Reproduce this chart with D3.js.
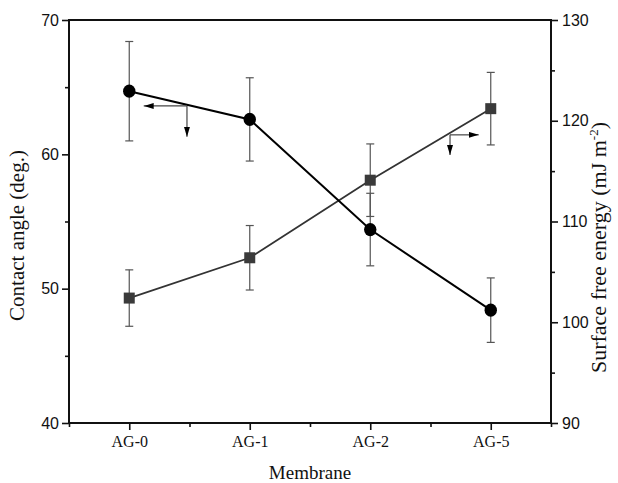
<!DOCTYPE html>
<html>
<head>
<meta charset="utf-8">
<script src="https://cdn.jsdelivr.net/npm/d3@7"></script>
<style>
  html, body { margin: 0; padding: 0; background: #fff; }
  svg { display: block; }
</style>
</head>
<body>
<svg id="chart" width="618" height="483"></svg>
<script>
// Membrane samples
const categories = ["AG-0", "AG-1", "AG-2", "AG-5"];

// Contact angle (deg.), left axis
const contactAngle = [64.7, 62.6, 54.4, 48.4];
const contactAngleErr = [3.7, 3.1, 2.7, 2.4];

// Surface free energy (mJ m^-2), right axis
const surfaceEnergy = [102.4, 106.4, 114.1, 121.2];
const surfaceEnergyErr = [2.8, 3.2, 3.6, 3.6];

// Axis ticks
const leftTicks = [40, 50, 60, 70];
const leftMinor = [45, 55, 65];
const rightTicks = [90, 100, 110, 120, 130];
const rightMinor = [95, 105, 115, 125];

const svg = d3.select("#chart");
const plot = { left: 69, right: 551, top: 20, bottom: 423 };

const x = d3.scaleLinear().domain([0.5, categories.length + 0.5]).range([plot.left, plot.right]);
const yL = d3.scaleLinear().domain([40, 70]).range([plot.bottom, plot.top]);
const yR = d3.scaleLinear().domain([90, 130]).range([plot.bottom, plot.top]);

const sansFont = "'Liberation Sans', Arial, sans-serif";
const serifFont = "'Liberation Serif', 'Times New Roman', serif";
const axisColor = "#111";

function styleAxis(g, width) {
  g.select(".domain").remove();
  g.selectAll(".tick line").attr("stroke", axisColor).attr("stroke-width", width);
}

// Left axis
const gL = svg.append("g").attr("transform", `translate(${plot.left},0)`)
  .call(d3.axisLeft(yL).tickValues(leftTicks).tickSize(7).tickPadding(3).tickFormat(d3.format("d")));
styleAxis(gL, 1.6);
gL.selectAll(".tick text").attr("font-family", sansFont).attr("font-size", 16).attr("fill", "#111");
svg.append("g").attr("transform", `translate(${plot.left},0)`)
  .call(d3.axisLeft(yL).tickValues(leftMinor).tickSize(4).tickFormat(""))
  .call(g => styleAxis(g, 1.6));

// Right axis
const gR = svg.append("g").attr("transform", `translate(${plot.right},0)`)
  .call(d3.axisRight(yR).tickValues(rightTicks).tickSize(7).tickPadding(4).tickFormat(d3.format("d")));
styleAxis(gR, 1.6);
gR.selectAll(".tick text").attr("font-family", sansFont).attr("font-size", 16).attr("fill", "#111");
svg.append("g").attr("transform", `translate(${plot.right},0)`)
  .call(d3.axisRight(yR).tickValues(rightMinor).tickSize(4).tickFormat(""))
  .call(g => styleAxis(g, 1.6));

// Bottom axis
const gB = svg.append("g").attr("transform", `translate(0,${plot.bottom})`)
  .call(d3.axisBottom(x).tickValues(d3.range(1, categories.length + 1)).tickSize(7).tickPadding(6)
    .tickFormat(d => categories[d - 1]));
styleAxis(gB, 1.6);
gB.selectAll(".tick text").attr("font-family", serifFont).attr("font-size", 16).attr("fill", "#111");
svg.append("g").attr("transform", `translate(0,${plot.bottom})`)
  .call(d3.axisBottom(x).tickValues(d3.range(0.5, categories.length + 1, 1)).tickSize(4).tickFormat(""))
  .call(g => styleAxis(g, 1.6));

// Frame
svg.append("rect")
  .attr("x", plot.left).attr("y", plot.top)
  .attr("width", plot.right - plot.left).attr("height", plot.bottom - plot.top)
  .attr("fill", "none").attr("stroke", axisColor).attr("stroke-width", 2);

// Error bars
function errorBars(vals, errs, y, color) {
  const g = svg.append("g").attr("stroke", color).attr("stroke-width", 1.2).attr("fill", "none");
  vals.forEach((v, i) => {
    const cx = x(i + 1);
    const top = y(v + errs[i]), bot = y(v - errs[i]);
    g.append("line").attr("x1", cx).attr("x2", cx).attr("y1", top).attr("y2", bot);
    g.append("line").attr("x1", cx - 4).attr("x2", cx + 4).attr("y1", top).attr("y2", top);
    g.append("line").attr("x1", cx - 4).attr("x2", cx + 4).attr("y1", bot).attr("y2", bot);
  });
}
errorBars(surfaceEnergy, surfaceEnergyErr, yR, "#555");
errorBars(contactAngle, contactAngleErr, yL, "#555");

// Series lines
const lineR = d3.line().x((d, i) => x(i + 1)).y(d => yR(d));
const lineL = d3.line().x((d, i) => x(i + 1)).y(d => yL(d));
svg.append("path").datum(surfaceEnergy).attr("d", lineR)
  .attr("fill", "none").attr("stroke", "#333").attr("stroke-width", 1.8);
svg.append("path").datum(contactAngle).attr("d", lineL)
  .attr("fill", "none").attr("stroke", "#000").attr("stroke-width", 2);

// Markers
const sq = 11;
svg.append("g").selectAll("rect").data(surfaceEnergy).join("rect")
  .attr("x", (d, i) => x(i + 1) - sq / 2).attr("y", d => yR(d) - sq / 2)
  .attr("width", sq).attr("height", sq).attr("fill", "#3a3a3a");
svg.append("g").selectAll("ellipse").data(contactAngle).join("ellipse")
  .attr("cx", (d, i) => x(i + 1)).attr("cy", d => yL(d))
  .attr("rx", 6.2).attr("ry", 6.6).attr("fill", "#000");

// Axis-pointer arrows (which series belongs to which axis)
svg.append("defs").append("marker")
  .attr("id", "head").attr("viewBox", "0 0 10 6").attr("refX", 10).attr("refY", 3)
  .attr("markerWidth", 10).attr("markerHeight", 6).attr("markerUnits", "userSpaceOnUse")
  .attr("orient", "auto")
  .append("path").attr("d", "M0,0 L10,3 L0,6 Z").attr("fill", "#000");

function pointer(cornerX, cornerY, horizTipX, vertTipY, yScale) {
  const g = svg.append("g").attr("stroke", "#444").attr("stroke-width", 1.2).attr("fill", "none");
  g.append("line").attr("x1", x(cornerX)).attr("y1", yScale(cornerY))
    .attr("x2", x(horizTipX)).attr("y2", yScale(cornerY)).attr("marker-end", "url(#head)");
  g.append("line").attr("x1", x(cornerX)).attr("y1", yScale(cornerY))
    .attr("x2", x(cornerX)).attr("y2", yScale(vertTipY)).attr("marker-end", "url(#head)");
}
pointer(1.479, 63.6, 1.12, 61.3, yL);
pointer(3.662, 118.6, 3.9, 116.6, yR);

// Axis titles
svg.append("text")
  .attr("transform", `translate(24,${(plot.top + plot.bottom) / 2 + 14}) rotate(-90)`)
  .attr("text-anchor", "middle").attr("font-family", serifFont).attr("font-size", 21).attr("fill", "#111")
  .text("Contact angle (deg.)");

const rt = svg.append("text")
  .attr("transform", `translate(606,${(plot.top + plot.bottom) / 2 + 26}) rotate(-90)`)
  .attr("text-anchor", "middle").attr("font-family", serifFont).attr("font-size", 22).attr("fill", "#111");
rt.append("tspan").text("Surface free energy (mJ m");
rt.append("tspan").attr("dy", -8).attr("font-size", 13).text("-2");
rt.append("tspan").attr("dy", 8).text(")");

svg.append("text")
  .attr("x", (plot.left + plot.right) / 2).attr("y", 479)
  .attr("text-anchor", "middle").attr("font-family", serifFont).attr("font-size", 19).attr("fill", "#111")
  .text("Membrane");
</script>
</body>
</html>
